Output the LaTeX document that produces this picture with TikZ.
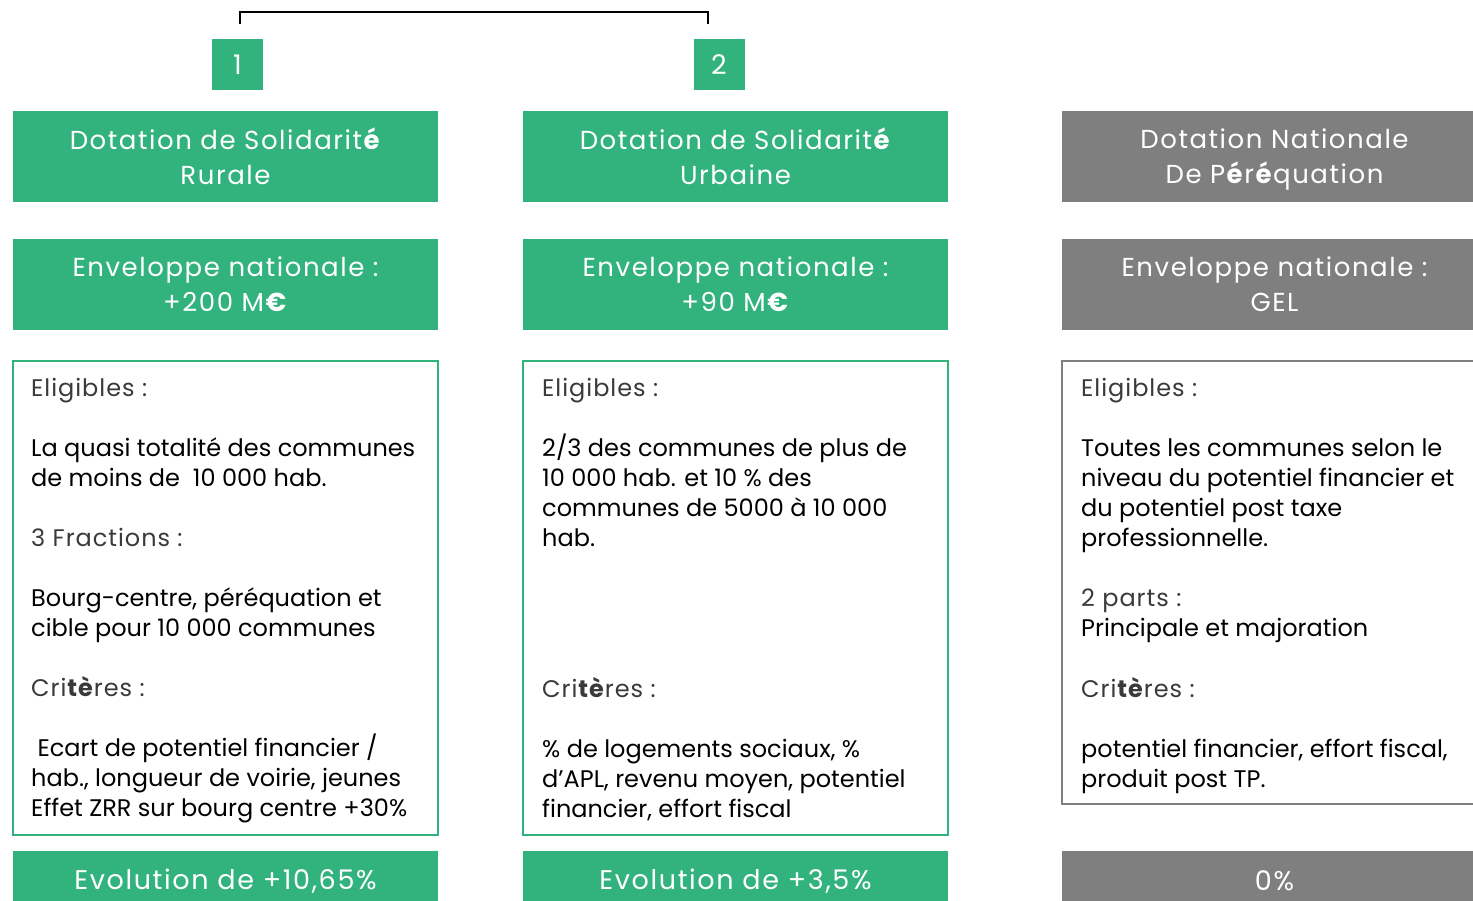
\documentclass[tikz,border=0pt]{standalone}
\usepackage{fontspec}
\setmainfont{Poppins}
\newfontfamily\spacedfont[LetterSpace=6]{Poppins}
\newfontfamily\headfont[LetterSpace=4]{Poppins}
\usetikzlibrary{positioning}
\definecolor{dsgreen}{HTML}{32B37E}
\definecolor{dngray}{HTML}{7F7F7F}
\definecolor{headgray}{HTML}{3A3A3A}
\newcommand{\headtxt}[1]{{\color{headgray}\headfont #1}}

\begin{document}
\begin{tikzpicture}[x=1pt,y=-1pt,
    greenbox/.style={fill=dsgreen, text=white, minimum width=425pt, minimum height=91pt,
        inner sep=0pt, align=center, font=\spacedfont\fontsize{26}{35}\selectfont},
    graybox/.style={greenbox, fill=dngray},
    numbox/.style={fill=dsgreen, text=white, minimum size=51pt, inner sep=0pt,
        font=\fontsize{27}{30}\selectfont},
    framebox/.style={draw=dsgreen, line width=1.5pt, minimum width=425pt, inner sep=0pt},
    bodytext/.style={anchor=north west, align=left, inner sep=0pt,
        font=\fontsize{24}{30}\selectfont},
    evolbox/.style={greenbox, minimum height=60pt, font=\spacedfont\fontsize{27}{30}\selectfont}]
    \useasboundingbox (0,0) rectangle (1473,901);
    \clip (0,0) rectangle (1473,901);

    % Numbers and bracket
    \node[numbox] (num1) at (237.5,64.5) {1};
    \node[numbox] (num2) at (719,64.5) {2};
    \coordinate (brL) at (240,24);
    \coordinate (brR) at (708,24);
    \draw[line width=1.5pt] (brL) -- ++(0,-12) -| (brR);

    % Titles
    \node[greenbox] (dsr) at (225.5,156.5) {Dotation de Solidarit\textbf{é}\\Rurale};
    \node[greenbox] (dsu) at (735.5,156.5) {Dotation de Solidarit\textbf{é}\\Urbaine};
    \node[graybox] (dnp) at (1274.5,156.5) {Dotation Nationale\\\raisebox{0pt}[\height][0pt]{De P\textbf{é}r\textbf{é}quation}};

    % Envelopes
    \node[greenbox] (envR) at (225.5,284.5) {Enveloppe nationale :\\+200 M\textbf{€}};
    \node[greenbox] (envU) at (735.5,284.5) {Enveloppe nationale :\\+90 M\textbf{€}};
    \node[graybox] (envP) at (1274.5,284.5) {Enveloppe nationale :\\GEL};

    % Detail frames
    \node[framebox, minimum height=474pt] (detR) at (225.5,598) {};
    \node[framebox, minimum height=474pt] (detU) at (735.5,598) {};
    \node[framebox, draw=dngray, minimum height=443pt] (detP) at (1274.5,582.5) {};

    \node[bodytext] (txtR) at (31,378) {\headtxt{Eligibles :}\\[30pt]
        La quasi totalité des communes\\
        de moins de\ \ 10 000 hab.\\[30pt]
        \headtxt{3 Fractions :}\\[30pt]
        Bourg-centre, péréquation et\\
        cible pour 10 000 communes\\[30pt]
        \headtxt{Cri\textbf{tè}res :}\\[30pt]
        \ Ecart de potentiel financier /\\
        hab., longueur de voirie, jeunes\\
        Effet ZRR sur bourg centre +30\%};
    \node[bodytext] (txtU) at (542,378) {\headtxt{Eligibles :}\\[30pt]
        2/3 des communes de plus de\\
        10 000 hab. et 10 \% des\\
        communes de 5000 à 10 000\\
        hab.\\[121pt]
        \headtxt{Cri\textbf{tè}res :}\\[30pt]
        \% de logements sociaux, \%\\
        d’APL, revenu moyen, potentiel\\
        financier, effort fiscal};
    \node[bodytext] (txtP) at (1081,378) {\headtxt{Eligibles :}\\[30pt]
        Toutes les communes selon le\\
        niveau du potentiel financier et\\
        du potentiel post taxe\\
        professionnelle.\\[30pt]
        \headtxt{2 parts :}\\
        Principale et majoration\\[31pt]
        \headtxt{Cri\textbf{tè}res :}\\[30pt]
        potentiel financier, effort fiscal,\\
        produit post TP.};

    % Evolution
    \node[evolbox] (evoR) at (225.5,881) {Evolution de +10,65\%};
    \node[evolbox] (evoU) at (735.5,881) {Evolution de +3,5\%};
    \node[evolbox, fill=dngray] (evoP) at (1274.5,881) {0\%};
\end{tikzpicture}
\end{document}
